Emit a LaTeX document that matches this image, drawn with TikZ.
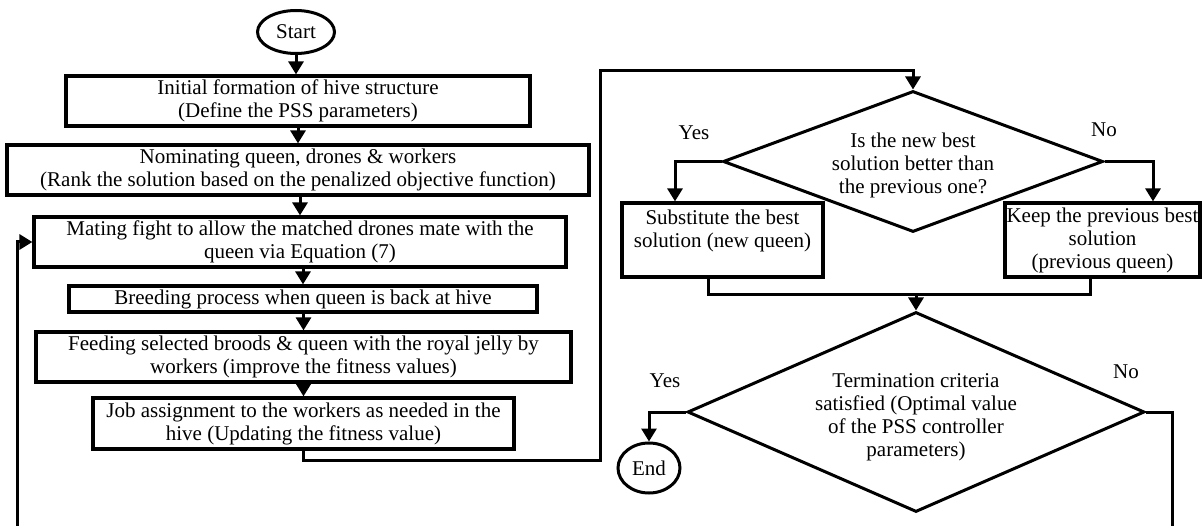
\documentclass[tikz,border=0pt]{standalone}
\usepackage{fontspec}
\setmainfont{Liberation Serif}
\usetikzlibrary{arrows.meta,shapes.geometric}
\begin{document}
\begin{tikzpicture}[x=1pt,y=-1pt,
  every node/.style={font=\fontsize{21}{23}\selectfont, inner sep=0pt},
  box/.style={draw, line width=3.2pt, align=center},
  dia/.style={draw, diamond, line width=3pt, inner sep=0pt},
  term/.style={draw, ellipse, line width=3pt},
  conn/.style={line width=3pt},
  arr/.style={conn, -{Triangle[length=13pt,width=15pt]}}]
\useasboundingbox (0,0) rectangle (1202,526);

% left column
\node[term, minimum width=77pt, minimum height=43pt] (start) at (296,32) {Start};
\node[box, minimum width=464pt, minimum height=50pt] (b1) at (298,101) {Initial formation of hive structure\\(Define the PSS parameters)};
\node[box, minimum width=582pt, minimum height=50pt] (b2) at (298,170) {Nominating queen, drones \& workers\\(Rank the solution based on the penalized objective function)};
\node[box, minimum width=532pt, minimum height=50pt] (b3) at (300,242) {Mating fight to allow the matched drones mate with the\\queen via Equation (7)};
\node[box, minimum width=468pt, minimum height=26pt] (b4) at (303,299) {Breeding process when queen is back at hive};
\node[box, minimum width=535pt, minimum height=50pt] (b5) at (303.5,357) {Feeding selected broods \& queen with the royal jelly by\\workers (improve the fitness values)};
\node[box, minimum width=421pt, minimum height=51pt] (b6) at (303.5,423.5) {Job assignment to the workers as needed in the\\hive (Updating the fitness value)};

% right column
\node[align=center] (t1) at (913,165) {Is the new best\\solution better than\\the previous one?};
\node[dia, minimum width=380pt, minimum height=141pt] (d1) at (913,161.5) {};
\node[box, minimum width=201pt, minimum height=74pt] (sub) at (722.5,240) {Substitute the best\\solution (new queen)\\\mbox{}};
\node[box, minimum width=195pt, minimum height=74pt] (keep) at (1102.5,240) {Keep the previous best\\solution\\(previous queen)};
\node[align=center] (t2) at (916,417) {Termination criteria\\satisfied (Optimal value\\of the PSS controller\\parameters)};
\node[dia, minimum width=457pt, minimum height=200pt] (d2) at (916,412) {};
\node[term, minimum width=62pt, minimum height=50pt] (endn) at (649,468) {End};

\node (y1) at (694,133) {Yes};
\node (n1) at (1104,130) {No};
\node (y2) at (665,381) {Yes};
\node (n2) at (1126,372) {No};

% connectors
\draw[arr] (start.south) -- (start.south |- b1.north);
\draw[arr] (b2.north |- b1.south) -- (b2.north);
\draw[arr] (b3.north |- b2.south) -- (b3.north);
\draw[arr] (b4.north |- b3.south) -- (b4.north);
\draw[arr] (b5.north |- b4.south) -- (b5.north);
\draw[arr] (b6.north |- b5.south) -- (b6.north);

\coordinate (jr) at (600,71);
\draw[arr] (b6.south) -- ++(0,10) -| (jr) -| (d1.north);

\coordinate (fl) at (17,526);
\draw[arr] (fl) |- (b3.west);

\draw[arr] (d1.west) -| ([xshift=-47.5pt]sub.north);
\draw[arr] (d1.east) -| ([xshift=50.5pt]keep.north);
\draw[conn] ([xshift=-14.5pt]sub.south) -- ++(0,16) -| ([xshift=-12.5pt]keep.south);
\coordinate (mg) at (916,293);
\draw[arr] (mg) -- (d2.north);

\draw[arr] (d2.west) -| (endn.north);
\coordinate (fr) at (1172,526);
\draw[conn] (d2.east) -| (fr);
\end{tikzpicture}
\end{document}
